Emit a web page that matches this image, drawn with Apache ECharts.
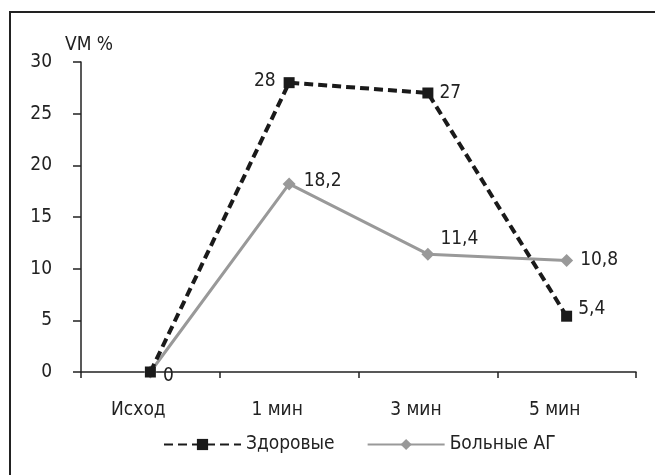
<!DOCTYPE html>
<html>
<head>
<meta charset="utf-8">
<script src="https://cdn.jsdelivr.net/npm/echarts@6/dist/echarts.min.js"></script>
<style>
  html, body { margin: 0; padding: 0; background: #fff; }
  #chart { width: 655px; height: 475px; }
</style>
</head>
<body>
<div id="chart"></div>
<script>
// Time points of the measurement
var categories = ['Исход', '1 мин', '3 мин', '5 мин'];
// VM, % — healthy subjects
var healthy = [0, 28, 27, 5.4];
// VM, % — patients with arterial hypertension
var patients = [0, 18.2, 11.4, 10.8];
// Value axis ticks
var yTicks = [0, 5, 10, 15, 20, 25, 30];

var FONT = '"DejaVu Sans Condensed", "Liberation Sans Narrow", sans-serif';
var INK = '#222';
var FS = 19;

function fmt(v) { return String(v).replace('.', ','); }

var chart = echarts.init(document.getElementById('chart'), null, { renderer: 'canvas' });

// per-point label placement for the healthy series
var healthyLabels = [
  { position: 'right', distance: 7, offset: [0, 4] },
  { position: 'left', distance: 8, offset: [0, -2] },
  { position: 'right', distance: 6, offset: [0, 0] },
  { position: 'right', distance: 6, offset: [0, -7] }
];
// per-point label placement for the patients series (first point unlabeled)
var patientLabels = [
  { show: false },
  { position: 'right', distance: 8, offset: [0, -3] },
  { position: 'right', distance: 6, offset: [0, -15] },
  { position: 'right', distance: 7, offset: [0, 0] }
];

chart.setOption({
  animation: false,
  backgroundColor: '#fff',
  textStyle: { fontFamily: FONT, color: INK },
  graphic: [
    {
      type: 'rect',
      shape: { x: 10, y: 12, width: 700, height: 520 },
      style: { fill: 'none', stroke: INK, lineWidth: 2 },
      silent: true
    },
    {
      type: 'text',
      left: 65, top: 36,
      style: { text: 'VM %', font: FS + 'px ' + FONT, fill: INK }
    }
  ],
  grid: { left: 81, right: 19, top: 62, bottom: 103, containLabel: false },
  legend: {
    left: 158,
    top: 430,
    itemWidth: 77,
    itemHeight: 14,
    itemGap: 32,
    textStyle: { fontFamily: FONT, fontSize: FS, color: INK },
    data: ['Здоровые', 'Больные АГ']
  },
  xAxis: {
    type: 'category',
    data: categories,
    boundaryGap: true,
    axisLine: { lineStyle: { color: INK, width: 1.5 } },
    axisTick: { show: true, length: 6, inside: false, lineStyle: { color: INK, width: 1.5 } },
    axisLabel: {
      margin: 29,
      fontSize: FS,
      color: INK,
      fontFamily: FONT,
      padding: [0, 24, 0, 0]
    },
    splitLine: { show: false }
  },
  yAxis: {
    type: 'value',
    min: yTicks[0],
    max: yTicks[yTicks.length - 1],
    interval: yTicks[1] - yTicks[0],
    axisLine: { show: true, lineStyle: { color: INK, width: 1.5 } },
    axisTick: { show: true, length: 8, inside: false, lineStyle: { color: INK, width: 1.5 } },
    axisLabel: { margin: 29, fontSize: FS, color: INK, fontFamily: FONT },
    splitLine: { show: false }
  },
  series: [
    {
      name: 'Здоровые',
      type: 'line',
      z: 3,
      data: healthy.map(function (v, i) {
        return { value: v, label: healthyLabels[i] };
      }),
      symbol: 'rect',
      symbolSize: 11,
      itemStyle: { color: '#1a1a1a' },
      lineStyle: { color: '#1a1a1a', width: 4, type: [9, 5] },
      label: {
        show: true,
        fontSize: FS,
        color: INK,
        fontFamily: FONT,
        formatter: function (p) { return fmt(p.value); }
      }
    },
    {
      name: 'Больные АГ',
      type: 'line',
      z: 2,
      data: patients.map(function (v, i) {
        return { value: v, label: patientLabels[i] };
      }),
      symbol: 'diamond',
      symbolSize: 13,
      itemStyle: { color: '#999999' },
      lineStyle: { color: '#999999', width: 3 },
      label: {
        show: true,
        fontSize: FS,
        color: INK,
        fontFamily: FONT,
        formatter: function (p) { return fmt(p.value); }
      }
    }
  ]
});
</script>
</body>
</html>
